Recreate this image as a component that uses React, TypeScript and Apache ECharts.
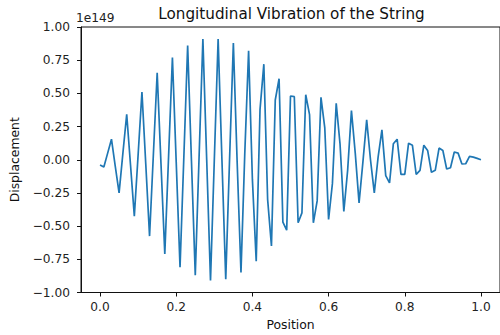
import React, { useEffect, useRef } from "react";
import * as echarts from "echarts";

// Position samples 0.00 .. 1.00 (step 0.01)
const positions: number[] = Array.from({ length: 101 }, (_, i) => +(i / 100).toFixed(2));

// Displacement in units of 1e149
const displacement: number[] = [
  -0.04, -0.055, 0.05, 0.155, -0.05, -0.25, 0.05, 0.343, -0.04, -0.425,
  0.04, 0.51, -0.03, -0.575, 0.04, 0.655, -0.03, -0.71, 0.03, 0.77,
  -0.02, -0.81, 0.02, 0.86, -0.01, -0.87, 0.02, 0.91, 0.0, -0.91,
  0.0, 0.91, 0.0, -0.9, 0.0, 0.88, -0.02, -0.85, 0.05, 0.82,
  -0.15, -0.765, 0.38, 0.72, -0.3, -0.65, 0.45, 0.61, -0.47, -0.53,
  0.48, 0.475, -0.475, -0.4, 0.49, 0.34, -0.475, -0.31, 0.47, 0.24,
  -0.45, -0.18, 0.425, 0.12, -0.39, -0.08, 0.37, 0.05, -0.325, -0.02,
  0.3, 0.0, -0.25, 0.02, 0.225, -0.12, -0.175, 0.12, 0.155, -0.11,
  -0.11, 0.125, 0.11, -0.11, -0.08, 0.11, 0.07, -0.095, -0.08, 0.088,
  0.07, -0.07, -0.06, 0.058, 0.05, -0.032, -0.03, 0.025, 0.02, 0.01,
  0.0,
];

const xTicks: number[] = [0, 0.2, 0.4, 0.6, 0.8, 1.0];
const exponentLabel = "1e149";
const title = "Longitudinal Vibration of the String";
const xName = "Position";
const yName = "Displacement";

const FONT = "DejaVu Sans";
const TICK_FS = 12.2;
const fmtNum = (v: number, d: number) => {
  const s = Math.abs(v).toFixed(d);
  return v < -1e-9 ? "\u2212" + s : s;
};

export default function App() {
  const ref = useRef<HTMLDivElement>(null);
  useEffect(() => {
    if (!ref.current) return;
    const chart = echarts.init(ref.current, undefined, { renderer: "svg" });
    const GL = 77, GT = 27, GW = 429, GH = 267;
    chart.setOption({
      animation: false,
      backgroundColor: "#fff",
      title: {
        text: title,
        left: GL + GW / 2,
        textAlign: "center",
        top: 6,
        padding: 0,
        textStyle: { fontFamily: FONT, fontSize: 15.2, fontWeight: "normal", color: "#111" },
      },
      grid: { left: GL, top: GT, width: GW, height: GH, show: true, borderColor: "#111", borderWidth: 1, backgroundColor: "transparent" },
      xAxis: {
        type: "value",
        min: -0.05,
        max: 1.05,
        name: xName,
        nameLocation: "middle",
        nameGap: 25.5,
        nameTextStyle: { fontFamily: FONT, fontSize: 12.4, color: "#111" },
        axisLine: { show: true, onZero: false, lineStyle: { color: "#111", width: 1 } },
        axisTick: { show: true, length: 4, customValues: xTicks, lineStyle: { color: "#111" } },
        axisLabel: { customValues: xTicks, formatter: (v: number) => fmtNum(v, 1), fontFamily: FONT, fontSize: TICK_FS, color: "#222", margin: 8.5 },
        splitLine: { show: false },
      },
      yAxis: {
        type: "value",
        min: -1,
        max: 1,
        interval: 0.25,
        name: yName,
        nameLocation: "middle",
        nameGap: 61,
        nameRotate: 90,
        nameTextStyle: { fontFamily: FONT, fontSize: 12.4, color: "#111" },
        axisLine: { show: true, onZero: false, lineStyle: { color: "#111", width: 1 } },
        axisTick: { show: true, length: 4, lineStyle: { color: "#111" } },
        axisLabel: { formatter: (v: number) => fmtNum(v, 2), fontFamily: FONT, fontSize: TICK_FS, color: "#222", margin: 11 },
        splitLine: { show: false },
      },
      graphic: [
        {
          type: "text",
          left: GL - 1,
          top: 12,
          style: { text: exponentLabel, fontFamily: FONT, fontSize: TICK_FS, fill: "#222" },
        },
      ],
      series: [
        {
          type: "line",
          data: positions.map((x, i) => [x, displacement[i]]),
          showSymbol: false,
          symbol: "none",
          lineStyle: { color: "#1f77b4", width: 1.7 },
          clip: true,
        },
      ],
    });
    return () => chart.dispose();
  }, []);
  return <div ref={ref} style={{ position: "fixed", left: 0, top: 0, width: 500, height: 335 }} />;
}
